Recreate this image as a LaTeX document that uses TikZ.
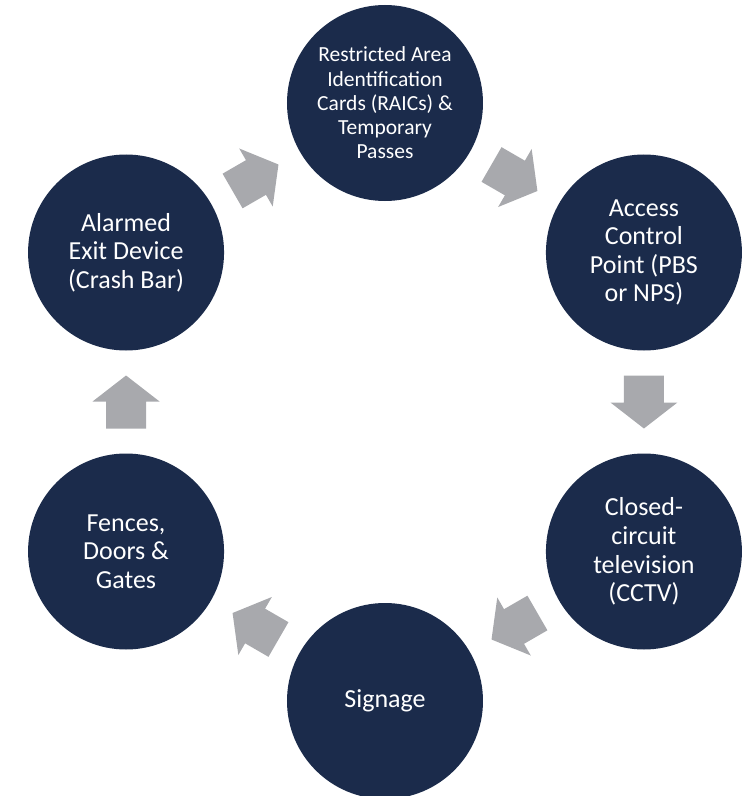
\documentclass[tikz,border=0pt]{standalone}
\usepackage{fontspec}
\setmainfont{Carlito}
\usetikzlibrary{calc}
\definecolor{navy}{HTML}{1B2B4B}
\definecolor{arrowgrey}{HTML}{A8A9AD}
\newcommand\flowarrow[3]{%
  \begin{scope}[shift={($(#1)!0.5!(#2)$)}, rotate=#3]
    \fill[arrowgrey] (-26.5,-20) -- (0.5,-20) -- (0.5,-33.5) -- (26.5,0)
      -- (0.5,33.5) -- (0.5,20) -- (-26.5,20) -- cycle;
  \end{scope}}
\begin{document}
\begin{tikzpicture}[x=1pt,y=1pt,
  stage/.style={circle, fill=navy, minimum size=196pt, inner sep=0pt,
    text=white, align=center, font=\fontsize{26}{28.6}\selectfont},
  smallstage/.style={stage, font=\fontsize{21.5}{24.2}\selectfont}]
\useasboundingbox (-385,-394) rectangle (358,402);
\clip (-385,-394) rectangle (358,402);
\node[smallstage] (c1) at (90:299) {Restricted Area\\Identification\\Cards (RAICs) \&\\Temporary\\Passes};
\node[stage] (c2) at (30:299) {Access\\Control\\Point (PBS\\or NPS)};
\node[stage] (c3) at (-30:299) {Closed-\\circuit\\television\\(CCTV)};
\node[stage] (c4) at (-90:299) {Signage};
\node[stage] (c5) at (-150:299) {Fences,\\Doors \&\\Gates};
\node[stage] (c6) at (150:299) {Alarmed\\Exit Device\\(Crash Bar)};
\flowarrow{c1}{c2}{-30}
\flowarrow{c2}{c3}{-90}
\flowarrow{c3}{c4}{-150}
\flowarrow{c4}{c5}{150}
\flowarrow{c5}{c6}{90}
\flowarrow{c6}{c1}{30}
\end{tikzpicture}
\end{document}
